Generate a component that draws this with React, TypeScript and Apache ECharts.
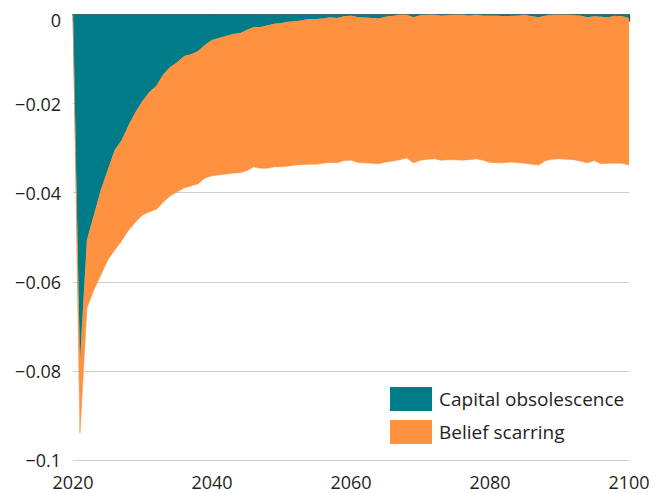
import React, { useEffect, useRef } from "react";
import * as echarts from "echarts";

const years: string[] = Array.from({ length: 81 }, (_, i) => String(2020 + i));

// Capital obsolescence effect (teal), by year 2020..2100
const capitalObsolescence: number[] = [
  0, -0.078, -0.0506, -0.045, -0.0394, -0.0349, -0.0304, -0.0282, -0.0248, -0.0219,
  -0.0194, -0.0174, -0.016, -0.0134, -0.0118, -0.0107, -0.0093, -0.0089, -0.0082, -0.0068,
  -0.0057, -0.0053, -0.0048, -0.0044, -0.0042, -0.0035, -0.0028, -0.0028, -0.0024, -0.0021,
  -0.0019, -0.0016, -0.0015, -0.0013, -0.001, -0.001, -0.0009, -0.0006, -0.0008, -0.0004,
  -0.0002, -0.0006, -0.0007, -0.0008, -0.0009, -0.0005, -0.0003, 0, 0, -0.0006,
  -0.0001, 0, 0, -0.0002, -0.0001, 0, 0, -0.0002, 0, -0.0002,
  -0.0002, -0.0002, -0.0004, -0.0003, -0.0002, 0, -0.0004, -0.0006, -0.0002, 0,
  0, 0, -0.0001, -0.0002, -0.0006, -0.0004, -0.0005, -0.0006, -0.0003, -0.0004,
  -0.0008,
];

// Belief scarring effect (orange), by year 2020..2100
const beliefScarring: number[] = [
  0, -0.0159, -0.0153, -0.0168, -0.0191, -0.0202, -0.0225, -0.0226, -0.0236, -0.0247,
  -0.0256, -0.0269, -0.0277, -0.0287, -0.0289, -0.0291, -0.0296, -0.0296, -0.0298, -0.0299,
  -0.0305, -0.0307, -0.031, -0.0312, -0.0313, -0.0316, -0.0314, -0.0317, -0.0321, -0.0321,
  -0.0323, -0.0324, -0.0323, -0.0324, -0.0326, -0.0326, -0.0325, -0.0326, -0.0325, -0.0324,
  -0.0325, -0.0326, -0.0326, -0.0326, -0.0326, -0.0326, -0.0326, -0.0326, -0.0322, -0.0327,
  -0.0326, -0.0325, -0.0324, -0.0325, -0.0325, -0.0326, -0.0327, -0.0324, -0.0324, -0.0325,
  -0.033, -0.0331, -0.0329, -0.0328, -0.0331, -0.0334, -0.0332, -0.0332, -0.0326, -0.0325,
  -0.0324, -0.0325, -0.0325, -0.0327, -0.0327, -0.0324, -0.033, -0.0328, -0.0331, -0.033,
  -0.033,
];

const seriesNames = ["Capital obsolescence", "Belief scarring"];
const seriesColors = ["#007b88", "#fe9241"];

const FONT = "'Open Sans', 'Noto Sans', sans-serif";
const TEXT = "#231f20";

function fmtY(v: number): string {
  if (Math.abs(v) < 1e-9) return "{z|0}";
  const a = parseFloat(Math.abs(v).toFixed(2)).toString();
  return (v < 0 ? "\u2212" : "") + a;
}

export default function App() {
  const ref = useRef<HTMLDivElement>(null);
  useEffect(() => {
    if (!ref.current) return;
    const chart = echarts.init(ref.current, undefined, { renderer: "svg" });
    const dataSets = [capitalObsolescence, beliefScarring];
    chart.setOption({
      animation: false,
      backgroundColor: "#ffffff",
      grid: { left: 73, right: 39, top: 14.5, bottom: 33, containLabel: false },
      legend: {
        orient: "vertical",
        left: 385,
        top: 382,
        itemWidth: 42,
        itemHeight: 24,
        itemGap: 9,
        icon: "rect",
        data: seriesNames,
        textStyle: {
          fontFamily: FONT,
          fontSize: 19,
          color: TEXT,
          padding: [0, 0, 0, 2],
        },
        selectedMode: false,
      },
      xAxis: {
        type: "category",
        data: years,
        boundaryGap: false,
        axisLine: { show: true, lineStyle: { color: "#3a3a3a", width: 1.5 } },
        axisTick: { show: true, length: 7, interval: 19, lineStyle: { color: "#3a3a3a", width: 1.2 } },
        splitLine: { show: false },
        axisLabel: {
          fontFamily: FONT,
          fontSize: 18,
          color: TEXT,
          margin: 13,
          interval: 19,
          showMinLabel: true,
          showMaxLabel: true,
        },
      },
      yAxis: {
        type: "value",
        min: -0.1,
        max: 0,
        interval: 0.02,
        axisLine: { show: false },
        axisTick: { show: false },
        splitLine: { show: true, lineStyle: { color: "#cdcdd2", width: 1.2 } },
        axisLabel: {
          fontFamily: FONT,
          fontSize: 18,
          color: TEXT,
          margin: 12,
          formatter: fmtY,
          rich: {
            z: { fontFamily: FONT, fontSize: 18, color: TEXT, padding: [11, 0, 0, 0] },
          },
        },
      },
      series: seriesNames.map((name, i) => ({
        name,
        type: "line",
        stack: "total",
        symbol: "none",
        smooth: false,
        itemStyle: { color: seriesColors[i] },
        lineStyle: { width: 0.6, color: seriesColors[i] },
        areaStyle: { color: seriesColors[i], opacity: 1 },
        data: dataSets[i],
        z: 2 + i,
      })),
    });
    return () => chart.dispose();
  }, []);
  return (
    <div
      ref={ref}
      style={{ position: "fixed", left: 0, top: 0, width: 668, height: 493 }}
    />
  );
}
